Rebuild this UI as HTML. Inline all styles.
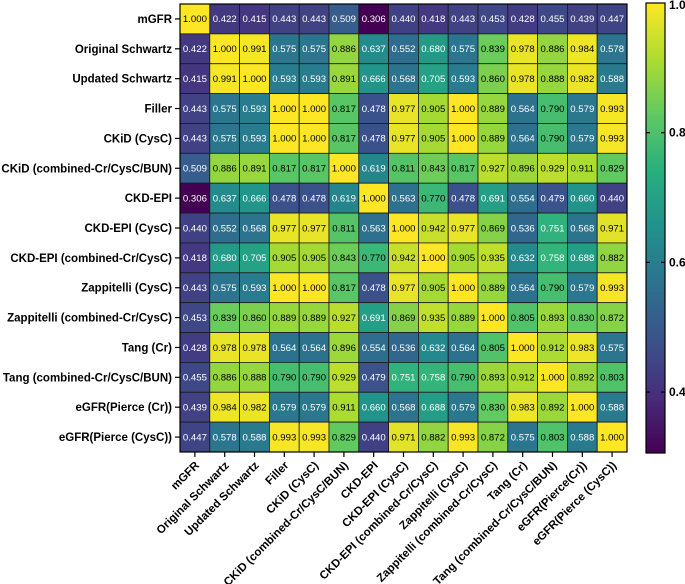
<!DOCTYPE html>
<html><head><meta charset="utf-8"><style>
html,body{margin:0;padding:0;background:#fff;}
svg{display:block;font-family:"Liberation Sans",Arial,sans-serif;}
</style></head><body>
<svg id="chart" width="685" height="584" viewBox="0 0 685 584" xmlns="http://www.w3.org/2000/svg">
<defs>
<linearGradient id="vir" x1="0" y1="1" x2="0" y2="0">
<stop offset="0" stop-color="#440154"/><stop offset="0.125" stop-color="#472d7b"/><stop offset="0.25" stop-color="#3b528b"/><stop offset="0.375" stop-color="#2c728e"/><stop offset="0.5" stop-color="#21918c"/><stop offset="0.625" stop-color="#28ae80"/><stop offset="0.75" stop-color="#5ec962"/><stop offset="0.875" stop-color="#addc30"/><stop offset="1" stop-color="#fde725"/>
</linearGradient>
</defs>
<g id="cells"></g>
<g id="labels"></g>
<g id="cbar"></g>
</svg>
<script>
const categories = ["mGFR","Original Schwartz","Updated Schwartz","Filler","CKiD (CysC)","CKiD (combined-Cr/CysC/BUN)","CKD-EPI","CKD-EPI (CysC)","CKD-EPI (combined-Cr/CysC)","Zappitelli (CysC)","Zappitelli (combined-Cr/CysC)","Tang (Cr)","Tang (combined-Cr/CysC/BUN)","eGFR(Pierce (Cr))","eGFR(Pierce (CysC))"];
const xCategories = ["mGFR","Original Schwartz","Updated Schwartz","Filler","CKiD (CysC)","CKiD (combined-Cr/CysC/BUN)","CKD-EPI","CKD-EPI (CysC)","CKD-EPI (combined-Cr/CysC)","Zappitelli (CysC)","Zappitelli (combined-Cr/CysC)","Tang (Cr)","Tang (combined-Cr/CysC/BUN)","eGFR(Pierce(Cr))","eGFR(Pierce (CysC))"];
const row0 = [1.000,0.422,0.415,0.443,0.443,0.509,0.306,0.440,0.418,0.443,0.453,0.428,0.455,0.439,0.447];
const row1 = [0.422,1.000,0.991,0.575,0.575,0.886,0.637,0.552,0.680,0.575,0.839,0.978,0.886,0.984,0.578];
const row2 = [0.415,0.991,1.000,0.593,0.593,0.891,0.666,0.568,0.705,0.593,0.860,0.978,0.888,0.982,0.588];
const row3 = [0.443,0.575,0.593,1.000,1.000,0.817,0.478,0.977,0.905,1.000,0.889,0.564,0.790,0.579,0.993];
const row4 = [0.443,0.575,0.593,1.000,1.000,0.817,0.478,0.977,0.905,1.000,0.889,0.564,0.790,0.579,0.993];
const row5 = [0.509,0.886,0.891,0.817,0.817,1.000,0.619,0.811,0.843,0.817,0.927,0.896,0.929,0.911,0.829];
const row6 = [0.306,0.637,0.666,0.478,0.478,0.619,1.000,0.563,0.770,0.478,0.691,0.554,0.479,0.660,0.440];
const row7 = [0.440,0.552,0.568,0.977,0.977,0.811,0.563,1.000,0.942,0.977,0.869,0.536,0.751,0.568,0.971];
const row8 = [0.418,0.680,0.705,0.905,0.905,0.843,0.770,0.942,1.000,0.905,0.935,0.632,0.758,0.688,0.882];
const row9 = [0.443,0.575,0.593,1.000,1.000,0.817,0.478,0.977,0.905,1.000,0.889,0.564,0.790,0.579,0.993];
const row10 = [0.453,0.839,0.860,0.889,0.889,0.927,0.691,0.869,0.935,0.889,1.000,0.805,0.893,0.830,0.872];
const row11 = [0.428,0.978,0.978,0.564,0.564,0.896,0.554,0.536,0.632,0.564,0.805,1.000,0.912,0.983,0.575];
const row12 = [0.455,0.886,0.888,0.790,0.790,0.929,0.479,0.751,0.758,0.790,0.893,0.912,1.000,0.892,0.803];
const row13 = [0.439,0.984,0.982,0.579,0.579,0.911,0.660,0.568,0.688,0.579,0.830,0.983,0.892,1.000,0.588];
const row14 = [0.447,0.578,0.588,0.993,0.993,0.829,0.440,0.971,0.882,0.993,0.872,0.575,0.803,0.588,1.000];
const matrix = [row0,row1,row2,row3,row4,row5,row6,row7,row8,row9,row10,row11,row12,row13,row14];
const cbarTicks = [0.4,0.6,0.8,1.0];
const cbarTickLabels = ["0.4","0.6","0.8","1.0"];
const vmin = 0.306, vmax = 1.0;

const NS = "http://www.w3.org/2000/svg";
const GX0 = 180, GX1 = 627, GY0 = 4, GY1 = 452;
const n = categories.length;
const cw = (GX1-GX0)/n, ch = (GY1-GY0)/n;
const xScale = i => GX0 + i*cw;
const yScale = i => GY0 + i*ch;
const CB_X = 646, CB_W = 19, CB_Y0 = 3, CB_Y1 = 453;
const cbScale = v => CB_Y1 - (v - vmin)/(vmax - vmin)*(CB_Y1 - CB_Y0);

const stops = [[68,1,84],[71,45,123],[59,82,139],[44,114,142],[33,145,140],[40,174,128],[94,201,98],[173,220,48],[253,231,37]];
function viridis(v){
  let t = Math.max(0, Math.min(1, (v-vmin)/(vmax-vmin)));
  const p = t*(stops.length-1); const i = Math.min(Math.floor(p), stops.length-2); const f = p-i;
  const c = stops[i].map((a,k)=>Math.round(a+(stops[i+1][k]-a)*f));
  return `rgb(${c[0]},${c[1]},${c[2]})`;
}
function mk(tag, attrs, parent){
  const e = document.createElementNS(NS, tag);
  for (const k in attrs) e.setAttribute(k, attrs[k]);
  parent.appendChild(e); return e;
}
const cells = document.getElementById('cells');
for (let r=0;r<n;r++){
  for (let c=0;c<n;c++){
    const v = matrix[r][c];
    const rect = mk('rect',{x:xScale(c),y:yScale(r),width:cw,height:ch,fill:viridis(v),stroke:'#1a1a1a','stroke-width':0.8},cells);
    
    
    const t = mk('text',{x:xScale(c)+cw/2,y:yScale(r)+ch/2+3.3,'text-anchor':'middle','font-size':'9.6',fill: v<0.765 ? '#ffffff':'#000000'},cells);
    t.textContent = v.toFixed(3);
    
    
  }
}
mk('rect',{x:GX0,y:GY0,width:GX1-GX0,height:GY1-GY0,fill:'none',stroke:'#000','stroke-width':1.2},cells);

const labels = document.getElementById('labels');
for (let i=0;i<n;i++){
  const cy = yScale(i)+ch/2;
  mk('line',{x1:GX0-5,x2:GX0,y1:cy,y2:cy,stroke:'#000','stroke-width':1.2},labels);
  const t = mk('text',{x:GX0-8,y:cy+4,'text-anchor':'end','font-size':'11.5','font-weight':'bold',fill:'#000'},labels);
  t.textContent = categories[i];
  
  
  const cx = xScale(i)+cw/2;
  mk('line',{x1:cx,x2:cx,y1:GY1,y2:GY1+5,stroke:'#000','stroke-width':1.2},labels);
  const ax = cx+5, ay = GY1+14;
  const xt = mk('text',{x:ax,y:ay,'text-anchor':'end','font-size':'11.5','font-weight':'bold',fill:'#000',transform:`rotate(-45 ${ax} ${ay})`},labels);
  xt.textContent = xCategories[i];
  
  
}

const cb = document.getElementById('cbar');
const bar = mk('rect',{x:CB_X,y:CB_Y0,width:CB_W,height:CB_Y1-CB_Y0,fill:'url(#vir)',stroke:'#000','stroke-width':1.2},cb);


for (let i=0;i<cbarTicks.length;i++){
  const y = cbScale(cbarTicks[i]);
  if (cbarTicks[i] < 1.0){
    mk('line',{x1:CB_X,x2:CB_X+4,y1:y,y2:y,stroke:'#000','stroke-width':1.2},cb);
    mk('line',{x1:CB_X+CB_W-4,x2:CB_X+CB_W,y1:y,y2:y,stroke:'#000','stroke-width':1.2},cb);
  }
  const t = mk('text',{x:CB_X+CB_W+4,y:Math.max(y+4,9),'font-size':'12','font-weight':'bold',fill:'#000'},cb);
  t.textContent = cbarTickLabels[i];
  
  
}
</script>
</body></html>
